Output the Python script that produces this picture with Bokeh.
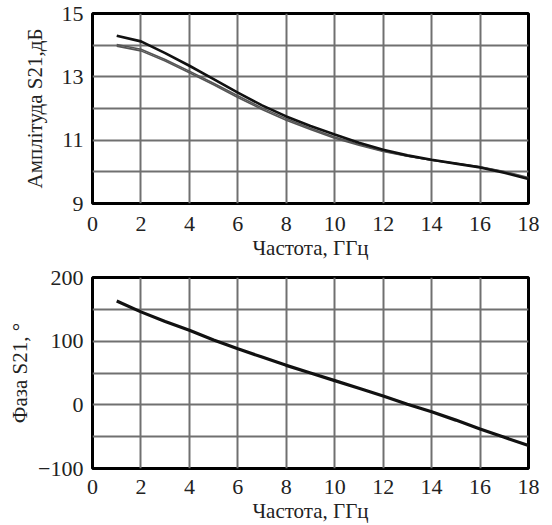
from bokeh.plotting import figure
from bokeh.layouts import column
from bokeh.models import Range1d, FixedTicker
from bokeh.embed import file_html
from bokeh.resources import INLINE

# ---- data ----
freq = [1, 2, 3, 4, 5, 6, 7, 8, 9, 10, 11, 12, 13, 14, 15, 16, 17, 18]
amp_a = [14.30, 14.12, 13.75, 13.35, 12.93, 12.50, 12.10, 11.75, 11.45,
         11.18, 10.92, 10.70, 10.52, 10.38, 10.26, 10.14, 9.97, 9.77]
amp_b = [14.02, 13.87, 13.55, 13.18, 12.80, 12.40, 12.02, 11.68, 11.38,
         11.10, 10.86, 10.66, 10.50, 10.37, 10.26, 10.15, 10.00, 9.80]
amp_c = [13.97, 13.82, 13.50, 13.13, 12.75, 12.35, 11.97, 11.63, 11.34,
         11.06, 10.84, 10.64, 10.49, 10.37, 10.27, 10.16, 10.01, 9.82]
phase = [163, 146, 131, 117, 102, 88, 75, 62, 50, 38, 26, 14, 1, -11,
         -24, -38, -51, -64]

x_ticks = [0, 2, 4, 6, 8, 10, 12, 14, 16, 18]
amp_ticks = [9, 11, 13, 15]
amp_minor = [10, 12, 14]
phase_ticks = [-100, 0, 100, 200]
phase_minor = [-50, 50, 150]
phase_labels = {-100: "\u2212100", 0: "0", 100: "100", 200: "200"}

x_title = "Частота, ГГц"
amp_title = "Амплітуда S21,дБ"
phase_title = "Фаза S21, °"

FONT = "Liberation Serif"
GRID = "#707070"


def style(p, yticks, yminor):
    p.outline_line_color = "black"
    p.outline_line_width = 3
    p.background_fill_color = "white"
    p.border_fill_color = "white"
    p.xaxis.ticker = FixedTicker(ticks=x_ticks)
    p.yaxis.ticker = FixedTicker(ticks=yticks, minor_ticks=yminor)
    p.xgrid.ticker = FixedTicker(ticks=x_ticks)
    for g in (p.xgrid, p.ygrid):
        g.grid_line_color = GRID
        g.grid_line_width = 2
    p.ygrid.minor_grid_line_color = GRID
    p.ygrid.minor_grid_line_width = 2
    for ax in (p.xaxis, p.yaxis):
        ax.axis_line_color = None
        ax.major_tick_line_color = None
        ax.minor_tick_line_color = None
        ax.major_tick_out = 0
        ax.major_tick_in = 0
        ax.minor_tick_out = 0
        ax.major_label_text_font = FONT
        ax.major_label_text_font_size = "22px"
        ax.major_label_text_color = "#222222"
        ax.axis_label_text_font = FONT
        ax.axis_label_text_font_size = "21px"
        ax.axis_label_text_font_style = "normal"
        ax.axis_label_text_color = "#222222"
    p.yaxis.major_label_standoff = 9
    p.yaxis.axis_label_standoff = 12
    p.xaxis.axis_label_standoff = 2


p1 = figure(width=552, height=262, output_backend="svg", toolbar_location=None,
            x_range=Range1d(0, 18), y_range=Range1d(9, 15),
            min_border_left=92, min_border_right=23,
            min_border_top=13, min_border_bottom=59)
style(p1, amp_ticks, amp_minor)
p1.xaxis.major_label_standoff = 13
p1.xaxis.axis_label = x_title
p1.yaxis.axis_label = amp_title
p1.line(freq, amp_b, line_color="#555555", line_width=1.6)
p1.line(freq, amp_c, line_color="#555555", line_width=1.6)
p1.line(freq, amp_a, line_color="#111111", line_width=2.6)

p2 = figure(width=552, height=263, output_backend="svg", toolbar_location=None,
            x_range=Range1d(0, 18), y_range=Range1d(-100, 200),
            min_border_left=91, min_border_right=24,
            min_border_top=15, min_border_bottom=57)
style(p2, phase_ticks, phase_minor)
p2.xaxis.major_label_standoff = 11
p2.yaxis.major_label_overrides = phase_labels
p2.yaxis.axis_label_standoff = 3
p2.xaxis.axis_label = x_title
p2.yaxis.axis_label = phase_title
p2.line(freq, phase, line_color="#111111", line_width=3.2)

layout = column(p1, p2)
open("out.html", "w").write(file_html(layout, INLINE))
